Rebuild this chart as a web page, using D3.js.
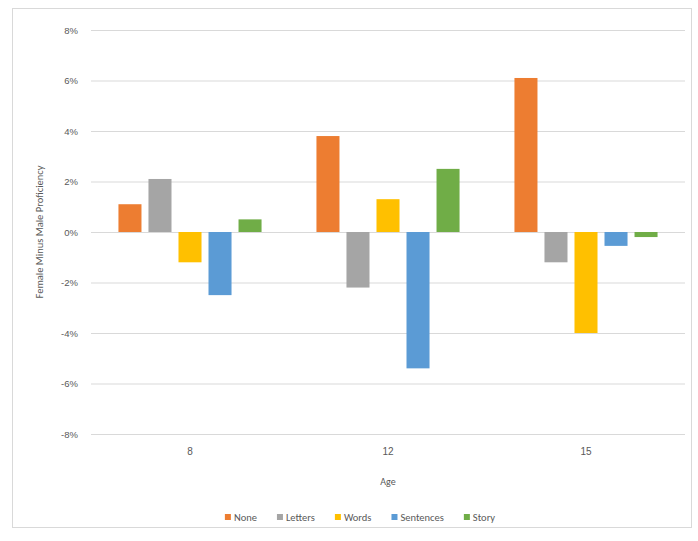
<!DOCTYPE html>
<html>
<head>
<meta charset="utf-8">
<script src="https://cdn.jsdelivr.net/npm/d3@7/dist/d3.min.js"></script>
<style>
  html, body { margin: 0; padding: 0; background: #fff; }
  svg { display: block; font-family: Calibri, Carlito, "Liberation Sans", Arial, sans-serif; }
</style>
</head>
<body>
<svg id="chart" width="698" height="541"></svg>
<script>
// Difference in proficiency (female minus male) by age and reading level
const ages = ["8", "12", "15"];
const seriesNames = ["None", "Letters", "Words", "Sentences", "Story"];
const seriesColors = ["#ED7D31", "#A5A5A5", "#FFC000", "#5B9BD5", "#70AD47"];
const noneValues      = [0.011, 0.038, 0.061];
const lettersValues   = [0.021, -0.022, -0.012];
const wordsValues     = [-0.012, 0.013, -0.040];
const sentencesValues = [-0.025, -0.054, -0.0055];
const storyValues     = [0.005, 0.025, -0.002];
const yTicks = [-0.08, -0.06, -0.04, -0.02, 0, 0.02, 0.04, 0.06, 0.08];

const seriesValues = [noneValues, lettersValues, wordsValues, sentencesValues, storyValues];

const svg = d3.select("#chart");
const plot = { left: 91, right: 685, top: 30, bottom: 434 };
const textColor = "#595959";
const gridColor = "#D9D9D9";

// chart frame
svg.append("rect")
  .attr("x", 12.5).attr("y", 8.5)
  .attr("width", 679).attr("height", 519)
  .attr("fill", "#fff").attr("stroke", gridColor).attr("stroke-width", 1);

const x0 = d3.scaleBand()
  .domain(ages)
  .range([plot.left, plot.right])
  .paddingInner(0.242)
  .paddingOuter(0.121);

const x1 = d3.scaleBand()
  .domain(seriesNames)
  .range([0, x0.bandwidth()])
  .paddingInner(0.233)
  .paddingOuter(0.1165);

const y = d3.scaleLinear()
  .domain([-0.08, 0.08])
  .range([plot.bottom, plot.top]);

// percent labels with a plain hyphen for negatives
const pct = d => d3.format(".0%")(d).replace("\u2212", "-");

// gridlines and y labels
const yAxis = d3.axisLeft(y)
  .tickValues(yTicks)
  .tickFormat(pct)
  .tickSize(-(plot.right - plot.left))
  .tickPadding(13);

const gy = svg.append("g")
  .attr("transform", `translate(${plot.left},0)`)
  .call(yAxis);
gy.select(".domain").remove();
gy.selectAll(".tick line").attr("stroke", gridColor).attr("stroke-width", 1);
gy.selectAll(".tick text")
  .attr("fill", textColor)
  .style("font-size", "9.5px");

// bars
const groups = svg.append("g")
  .selectAll("g")
  .data(ages)
  .join("g")
  .attr("transform", d => `translate(${x0(d)},0)`);

groups.selectAll("rect")
  .data((age, i) => seriesNames.map((name, s) => ({ name, s, v: seriesValues[s][i] })))
  .join("rect")
  .attr("x", d => x1(d.name))
  .attr("width", x1.bandwidth())
  .attr("y", d => y(Math.max(0, d.v)))
  .attr("height", d => Math.abs(y(d.v) - y(0)))
  .attr("fill", d => seriesColors[d.s]);

// category labels
const xAxis = d3.axisBottom(x0).tickSize(0).tickPadding(14);
const gx = svg.append("g")
  .attr("transform", `translate(0,${plot.bottom})`)
  .call(xAxis);
gx.select(".domain").remove();
gx.selectAll(".tick text")
  .attr("fill", textColor)
  .style("font-size", "10px");

// axis titles
svg.append("text")
  .attr("x", (plot.left + plot.right) / 2)
  .attr("y", 485)
  .attr("text-anchor", "middle")
  .attr("fill", textColor)
  .style("font-size", "10px")
  .text("Age");

svg.append("text")
  .attr("transform", `translate(43,${y(0)}) rotate(-90)`)
  .attr("text-anchor", "middle")
  .attr("fill", textColor)
  .style("font-size", "10.5px")
  .text("Female Minus Male Proficiency");

// legend
const legendFont = 10.5;
const legendGap = 20;
const legendItems = [];
let lx = 0;
const tmp = svg.append("text").style("font-size", legendFont + "px");
seriesNames.forEach((name, i) => {
  tmp.text(name);
  const w = tmp.node().getComputedTextLength();
  legendItems.push({ name, i, x: lx });
  lx += 6 + 3 + w + legendGap;
});
tmp.remove();
const legendWidth = lx - legendGap;
const legend = svg.append("g")
  .attr("transform", `translate(${360 - legendWidth / 2},517)`);
const li = legend.selectAll("g")
  .data(legendItems)
  .join("g")
  .attr("transform", d => `translate(${d.x},0)`);
li.append("rect")
  .attr("x", 0).attr("y", -3)
  .attr("width", 6).attr("height", 6)
  .attr("fill", d => seriesColors[d.i]);
li.append("text")
  .attr("x", 9).attr("y", 0)
  .attr("dy", "0.35em")
  .attr("fill", textColor)
  .style("font-size", legendFont + "px")
  .text(d => d.name);
</script>
</body>
</html>
